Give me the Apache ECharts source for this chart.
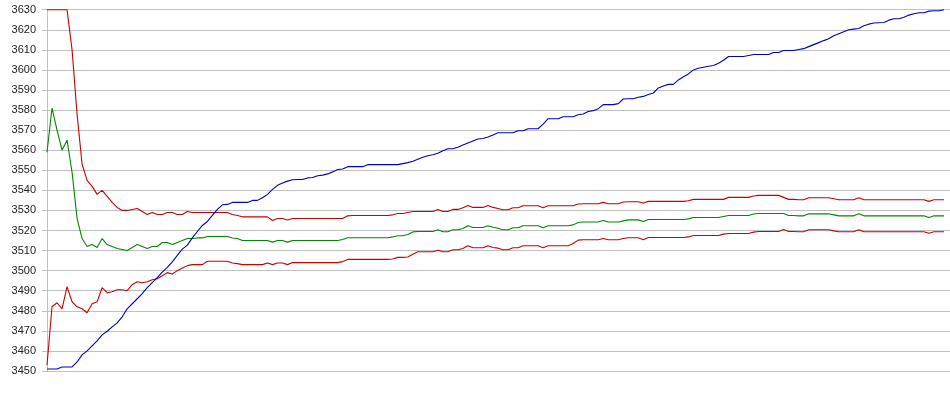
<!DOCTYPE html>
<html>
<head>
<meta charset="utf-8">
<script src="https://cdn.jsdelivr.net/npm/echarts@6/dist/echarts.min.js"></script>
<style>html,body{margin:0;padding:0;background:#fff}#c{width:950px;height:395px}</style>
</head>
<body>
<div id="c"></div>
<script>
var yTicks = {min: 3450, max: 3630, step: 10};

var blueLine = [
3451,3451,3451,3452,3452,3452,3454.5,3458,3460,3462.5,
3465,3468,3469.8,3472,3474,3477,3481,3483.5,3486,3488.5,
3491.5,3494,3496.5,3499.3,3501.6,3504.4,3507.6,3510.7,3512.7,3516.3,
3519.5,3522.5,3524.5,3527.5,3530.5,3532.8,3533,3534,3534,3534,
3534,3535,3535,3536.3,3538,3540.5,3542.5,3543.7,3544.6,3545.3,
3545.4,3545.4,3546.2,3546.4,3547.3,3547.6,3548.2,3549.2,3550.4,3550.6,
3551.8,3551.8,3551.8,3551.8,3552.8,3552.8,3552.8,3552.8,3552.8,3552.8,
3552.8,3553.3,3553.8,3554.5,3555.5,3556.5,3557.2,3557.7,3558.5,3559.7,
3560.7,3560.7,3561.5,3562.6,3563.6,3564.6,3565.6,3565.8,3566.6,3567.6,
3568.7,3568.7,3568.7,3568.7,3569.7,3569.7,3570.7,3570.7,3570.7,3573,
3575.7,3575.7,3575.7,3576.7,3576.7,3576.7,3577.7,3578,3579.3,3579.7,
3580.7,3582.7,3582.7,3582.7,3583.2,3585.5,3585.6,3585.6,3586.4,3586.8,
3587.8,3588.5,3591,3592,3592.8,3592.8,3595,3596.6,3598,3600,
3600.8,3601.3,3601.8,3602.2,3603.3,3604.8,3606.7,3606.7,3606.7,3606.7,
3607.2,3607.7,3607.7,3607.7,3607.7,3608.7,3608.7,3609.7,3609.7,3609.7,
3610.2,3610.6,3611.6,3612.6,3613.6,3614.6,3615.5,3617,3618,3619,
3620,3620.3,3620.6,3622,3622.8,3623.4,3623.5,3623.6,3624.8,3625.5,
3625.5,3626.2,3627.3,3628,3628.5,3628.5,3629.3,3629.5,3629.5,3630
];

var upperRed = [
3630,3630,3630,3630,3630,3610,3578,3553,3545,3542,
3538,3540,3537,3534,3531.5,3530,3530,3530.5,3531,3529.5,
3528,3529,3528,3528,3529,3529,3528,3528,3529.5,3529,
3529,3529,3529,3529,3529,3529,3529,3528,3527.5,3526.8,
3526.8,3526.8,3526.8,3526.8,3526.8,3525,3526,3526,3525.2,3526,
3526,3526,3526,3526,3526,3526,3526,3526,3526,3526,
3527.3,3527.5,3527.5,3527.5,3527.5,3527.5,3527.5,3527.5,3527.5,3527.8,
3528.5,3528.5,3529,3529.5,3529.5,3529.5,3529.5,3529.5,3530.5,3529.5,
3529.5,3530.5,3530.5,3531.3,3532.5,3531.5,3531.5,3531.5,3532.5,3531.5,
3531,3530.3,3530.3,3531.3,3531.3,3532.3,3532.3,3532.3,3532.3,3531.3,
3532.3,3532.3,3532.3,3532.3,3532.3,3532.3,3533.2,3533.3,3533.3,3533.3,
3533.3,3534,3533.3,3533.3,3533.3,3534.2,3534.3,3534.3,3534.3,3533.7,
3534.5,3534.5,3534.5,3534.5,3534.5,3534.5,3534.5,3534.5,3534.8,3535.5,
3535.5,3535.5,3535.5,3535.5,3535.5,3535.5,3536.5,3536.5,3536.5,3536.5,
3536.5,3537.2,3537.5,3537.5,3537.5,3537.5,3537.5,3536.5,3535.5,3535.5,
3535.3,3535.3,3536.3,3536.3,3536.3,3536.3,3536.3,3535.8,3535.3,3535.3,
3535.3,3535.3,3536.3,3535.3,3535.3,3535.3,3535.3,3535.3,3535.3,3535.3,
3535.3,3535.3,3535.3,3535.3,3535.3,3535.3,3534.5,3535.3,3535.3,3535.3
];

var greenLine = [
3559,3581,3570,3560,3565,3549,3526,3516,3512,3513,
3511.5,3516,3513,3512,3511,3510.5,3510,3511.5,3513,3512,
3511,3512,3512,3514,3514,3513,3514,3515,3516,3516,
3516.3,3516.3,3517,3517,3517,3517,3517,3516.3,3516,3515,
3515,3515,3515,3515,3515,3514.2,3515,3515,3514.2,3515,
3515,3515,3515,3515,3515,3515,3515,3515,3515,3515.5,
3516.4,3516.4,3516.4,3516.4,3516.4,3516.4,3516.4,3516.4,3516.4,3516.8,
3517.4,3517.4,3518,3519.3,3519.5,3519.5,3519.5,3519.5,3520.4,3519.4,
3519.4,3520.4,3520.4,3521,3522.4,3521.5,3521.5,3521.5,3522.4,3521.6,
3521.1,3520.4,3520.4,3521.4,3521.4,3522.4,3522.4,3522.4,3522.4,3521.4,
3522.4,3522.4,3522.4,3522.4,3522.4,3522.8,3524,3524.2,3524.2,3524.2,
3524.2,3525,3524.2,3524.2,3524.2,3524.8,3525.3,3525.3,3525.3,3524.5,
3525.5,3525.5,3525.5,3525.5,3525.5,3525.5,3525.5,3525.5,3525.8,3526.5,
3526.5,3526.5,3526.5,3526.5,3526.5,3527,3527.5,3527.5,3527.5,3527.5,
3527.5,3528.2,3528.5,3528.5,3528.5,3528.5,3528.5,3528.5,3527.5,3527.5,
3527.3,3527.3,3528.3,3528.3,3528.3,3528.3,3528.3,3527.8,3527.3,3527.3,
3527.3,3527.3,3528.3,3527.3,3527.3,3527.3,3527.3,3527.3,3527.3,3527.3,
3527.3,3527.3,3527.3,3527.3,3527.3,3527.3,3526.5,3527.3,3527.3,3527.3
];

var lowerRed = [
3453,3482,3484,3481,3492,3484.5,3482,3481,3479,3483.5,
3484.5,3491.5,3489,3489.5,3490.5,3490.5,3490,3493,3494.5,3494,
3494.5,3495.5,3496,3497.5,3499,3498.3,3500,3501.3,3502.5,3503,
3503,3503,3504.7,3504.7,3504.7,3504.7,3504.7,3503.8,3503.5,3503,
3503,3503,3503,3503,3503.8,3503,3503.8,3503.8,3503,3504,
3504,3504,3504,3504,3504,3504,3504,3504,3504,3504.5,
3505.6,3505.6,3505.6,3505.6,3505.6,3505.6,3505.6,3505.6,3505.6,3505.8,
3506.6,3506.6,3506.8,3508.2,3509.4,3509.4,3509.4,3509.4,3510.2,3509.4,
3509.4,3510.4,3510.4,3511,3512.4,3511.4,3511.4,3511.4,3512.4,3511.5,
3511.2,3510.4,3510.4,3511.4,3511.4,3512.4,3512.4,3512.4,3512.4,3511.4,
3512.4,3512.4,3512.4,3512.4,3512.4,3513.5,3515.2,3515.4,3515.4,3515.4,
3515.4,3516,3515.4,3515.4,3515.4,3516,3516.4,3516.4,3516.4,3515.4,
3516.5,3516.5,3516.5,3516.5,3516.5,3516.5,3516.5,3516.5,3516.8,3517.5,
3517.5,3517.5,3517.5,3517.5,3517.5,3518.2,3518.5,3518.5,3518.5,3518.5,
3518.5,3519.2,3519.5,3519.5,3519.5,3519.5,3519.5,3520.5,3519.5,3519.5,
3519.4,3519.4,3520.4,3520.4,3520.4,3520.4,3520.4,3519.8,3519.4,3519.4,
3519.4,3519.4,3520.4,3519.4,3519.4,3519.4,3519.4,3519.4,3519.4,3519.4,
3519.4,3519.4,3519.4,3519.4,3519.4,3519.4,3518.6,3519.4,3519.4,3519.4
];

function pairs(arr){ return arr.map(function(v,i){ return [i, v]; }); }

var chart = echarts.init(document.getElementById('c'), null, {renderer: 'canvas'});
var lineBase = {type: 'line', symbol: 'none', smooth: false, animation: false, clip: false, z: 2};
chart.setOption({
  animation: false,
  backgroundColor: '#ffffff',
  grid: {left: 42, right: 0, top: 9.7, bottom: 24, containLabel: false},
  xAxis: {
    type: 'value', min: -1, max: blueLine.length + 0.2, show: false
  },
  yAxis: {
    type: 'value', min: yTicks.min, max: yTicks.max, interval: yTicks.step,
    axisLine: {show: true, lineStyle: {color: '#c0c0c0', width: 1}},
    axisTick: {show: false},
    axisLabel: {
      color: '#222', fontFamily: 'Liberation Sans, Arial, sans-serif', fontSize: 11, margin: 6,
      formatter: function (v) { return String(v); }
    },
    splitLine: {show: true, lineStyle: {color: '#c0c0c0', width: 1}}
  },
  series: [
    Object.assign({}, lineBase, {name: 'upper', data: pairs(upperRed), lineStyle: {color: '#cc0000', width: 1.1}}),
    Object.assign({}, lineBase, {name: 'mid', data: pairs(greenLine), lineStyle: {color: '#008800', width: 1.1}}),
    Object.assign({}, lineBase, {name: 'lower', data: pairs(lowerRed), lineStyle: {color: '#cc0000', width: 1.1}}),
    Object.assign({}, lineBase, {name: 'blue', data: pairs(blueLine), lineStyle: {color: '#0000cc', width: 1.1}})
  ]
});
</script>
</body>
</html>
